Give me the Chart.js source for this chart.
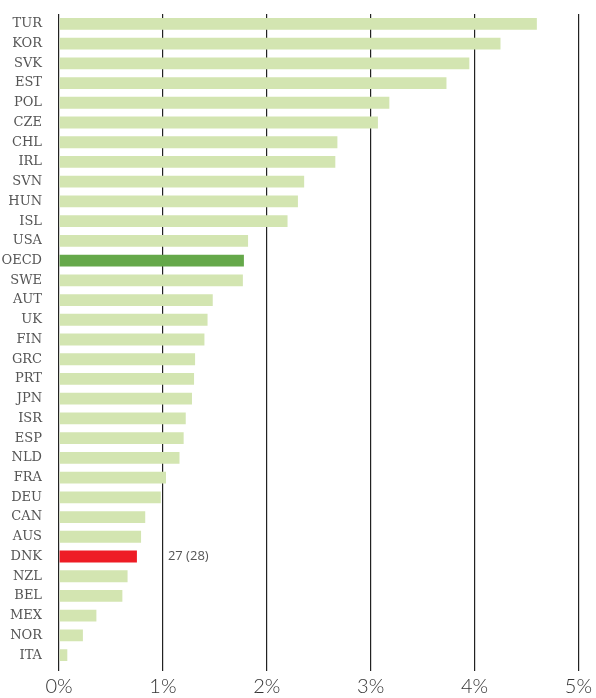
<!DOCTYPE html>
<html>
<head>
<meta charset="utf-8">
<script src="https://cdn.jsdelivr.net/npm/chart.js@4"></script>
<style>
  body { margin: 0; background: #fff; }
  #wrap { width: 596px; height: 698px; position: relative; }
</style>
</head>
<body>
<div id="wrap"><canvas id="chart"></canvas></div>
<script>
// data
const countries = ["TUR","KOR","SVK","EST","POL","CZE","CHL","IRL","SVN","HUN","ISL","USA","OECD","SWE","AUT","UK","FIN","GRC","PRT","JPN","ISR","ESP","NLD","FRA","DEU","CAN","AUS","DNK","NZL","BEL","MEX","NOR","ITA"];
const values = [4.60,4.25,3.95,3.73,3.18,3.07,2.68,2.66,2.36,2.30,2.20,1.82,1.78,1.77,1.48,1.43,1.40,1.31,1.30,1.28,1.22,1.20,1.16,1.03,0.98,0.83,0.79,0.75,0.66,0.61,0.36,0.23,0.08];
const xTicks = [0, 1, 2, 3, 4, 5];
const rankNote = "27 (28)";

const LIGHT = "#d3e5b1";
const OECD_GREEN = "#65a84a";
const DNK_RED = "#ee1c25";

const colors = countries.map(c => c === "OECD" ? OECD_GREEN : c === "DNK" ? DNK_RED : LIGHT);

// note next to the DNK bar
const notePlugin = {
  id: "note",
  afterDatasetsDraw(chart) {
    const { ctx, scales } = chart;
    const i = countries.indexOf("DNK");
    const y = scales.y.getPixelForValue(i);
    const x = scales.x.getPixelForValue(1) + 5;
    ctx.save();
    ctx.font = "13px 'Open Sans'";
    ctx.fillStyle = "#555";
    ctx.textBaseline = "middle";
    ctx.fillText(rankNote, x, y);
    ctx.restore();
  }
};

new Chart(document.getElementById("chart"), {
  type: "bar",
  data: {
    labels: countries,
    datasets: [{
      data: values,
      backgroundColor: colors,
      barPercentage: 0.6,
      categoryPercentage: 1
    }]
  },
  options: {
    indexAxis: "y",
    responsive: true,
    maintainAspectRatio: false,
    animation: false,
    layout: { padding: { top: 14, right: 16, left: 0, bottom: 0 } },
    plugins: { legend: { display: false }, tooltip: { enabled: false } },
    scales: {
      x: {
        min: 0,
        max: 5,
        afterBuildTicks: ax => { ax.ticks = xTicks.map(v => ({ value: v })); },
        afterFit: ax => { ax.height = 33; ax.paddingTop = 0; },
        border: { display: false },
        grid: { color: "#222", lineWidth: 1.2, tickLength: 6, drawTicks: true },
        ticks: {
          padding: 4,
          color: "#333",
          font: { family: "Lato", size: 20, weight: 300 },
          callback: v => v + "%"
        }
      },
      y: {
        afterFit: ax => { ax.width = 59; ax.paddingTop = 0; ax.paddingBottom = 0; },
        border: { display: false },
        grid: { display: false, drawTicks: false },
        ticks: {
          padding: 17,
          color: "#555",
          autoSkip: false,
          font: { family: "DejaVu Serif", size: 13 }
        }
      }
    }
  },
  plugins: [notePlugin]
});
</script>
</body>
</html>
